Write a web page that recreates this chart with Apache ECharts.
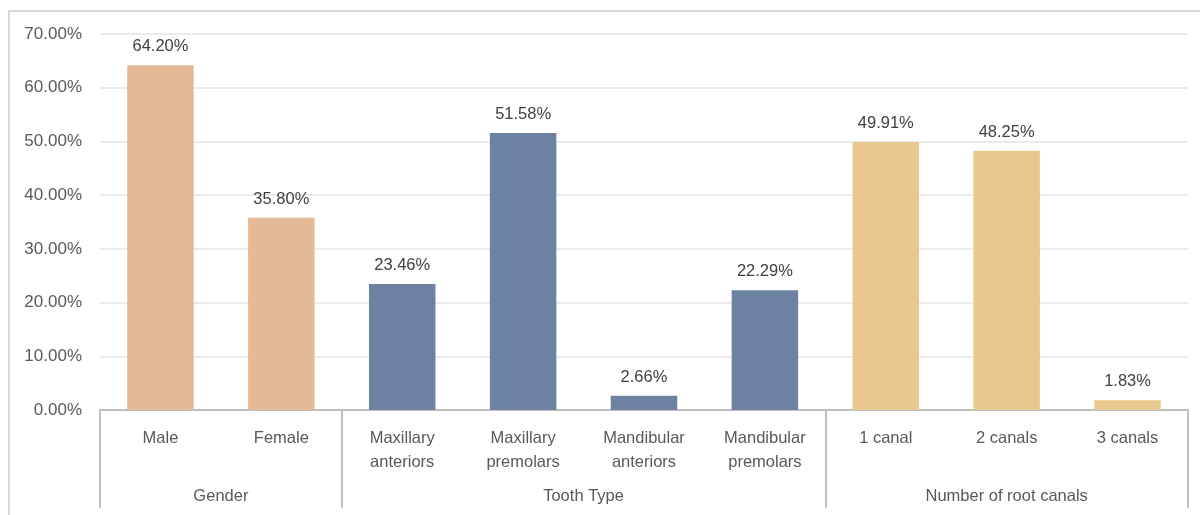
<!DOCTYPE html>
<html>
<head>
<meta charset="utf-8">
<script src="https://cdn.jsdelivr.net/npm/echarts@6.0.0/dist/echarts.min.js"></script>
<style>
  html, body { margin: 0; padding: 0; background: #fff; }
  #chart { width: 1200px; height: 515px; }
</style>
</head>
<body>
<div id="chart"></div>
<script>
// categories, values and the group each bar belongs to
const categories = ["Male", "Female", "Maxillary\nanteriors", "Maxillary\npremolars",
  "Mandibular\nanteriors", "Mandibular\npremolars", "1 canal", "2 canals", "3 canals"];
const values = [64.20, 35.80, 23.46, 51.58, 2.66, 22.29, 49.91, 48.25, 1.83];
const groupOf = [0, 0, 1, 1, 1, 1, 2, 2, 2];
const groupNames = ["Gender", "Tooth Type", "Number of root canals"];
const groupColors = ["#E4B997", "#6D82A3", "#E9C88F"];
const yTicks = [0, 10, 20, 30, 40, 50, 60, 70];

// first category index of each group -> separator ticks (end tick is added by echarts)
const groupStarts = [0, 2, 6];
// group label sits at the centre of its span (value axis counts bands 0..9)
const groupCentres = {1: 0, 4: 1, 7.5: 2};

const chart = echarts.init(document.getElementById("chart"));
const font = "'Liberation Sans', Arial, sans-serif";

chart.setOption({
  animation: false,
  graphic: [{
    type: "rect",
    shape: { x: 9, y: 11, width: 1220, height: 530 },
    style: { fill: "none", stroke: "#d9d9d9", lineWidth: 2 },
    silent: true
  }],
  grid: { left: 100, right: 12, top: 34, bottom: 105 },
  xAxis: [{
    type: "category",
    data: categories,
    axisLine: { lineStyle: { color: "#bfbfbf", width: 2 } },
    axisTick: {
      show: true,
      length: 98,
      interval: (i) => groupStarts.indexOf(i) >= 0,
      lineStyle: { color: "#bfbfbf", width: 2 }
    },
    axisLabel: {
      interval: 0, margin: 16, color: "#595959",
      fontFamily: font, fontSize: 16.5, lineHeight: 24
    }
  }, {
    type: "value",
    position: "bottom",
    min: 0, max: 9, interval: 0.5,
    axisLine: { show: false }, axisTick: { show: false }, splitLine: { show: false },
    axisLabel: {
      margin: 78, color: "#595959", fontFamily: font, fontSize: 16.5,
      showMinLabel: true, showMaxLabel: true,
      formatter: (v) => (v in groupCentres ? groupNames[groupCentres[v]] : "")
    }
  }],
  yAxis: {
    type: "value",
    min: yTicks[0], max: yTicks[yTicks.length - 1], interval: 10,
    axisLine: { show: false }, axisTick: { show: false },
    splitLine: { lineStyle: { color: "#ebebeb", width: 2 } },
    axisLabel: {
      margin: 18, color: "#595959", fontFamily: font, fontSize: 17,
      formatter: (v) => v.toFixed(2) + "%"
    }
  },
  series: [{
    type: "bar",
    barWidth: "55%",
    data: values.map((v, i) => ({ value: v, itemStyle: { color: groupColors[groupOf[i]] } })),
    label: {
      show: true, position: "top", distance: 10,
      color: "#404040", fontFamily: font, fontSize: 16.5,
      formatter: (p) => p.value.toFixed(2) + "%"
    }
  }]
});
</script>
</body>
</html>
